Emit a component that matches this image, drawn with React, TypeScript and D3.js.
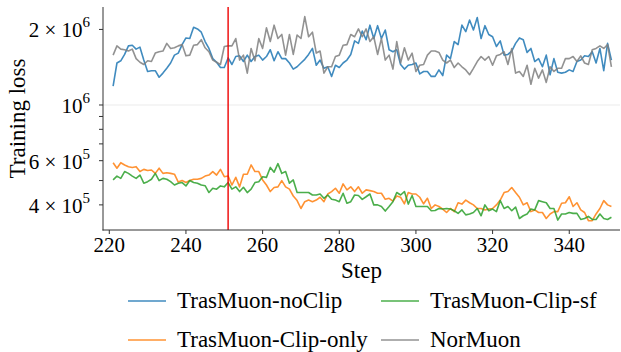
import React from 'react';
import * as d3 from 'd3';

// loss values in units of 1e5, steps 221..351
const steps = d3.range(221, 352);
const UNIT = 1e5;

const noClip = [
  11.9, 14.7, 15.0, 15.9, 17.2, 17.3, 16.7, 17.0, 15.1, 13.6, 13.7, 13.7, 12.9, 13.4, 14.0, 14.7, 15.8, 16.1, 17.4, 18.5,
  18.4, 20.4, 20.1, 19.5, 17.9, 16.8, 15.3, 14.8, 14.1, 14.1, 15.4, 14.5, 15.6, 15.7, 14.9, 15.8, 14.9, 15.6, 15.8, 15.1,
  15.6, 16.6, 15.0,
  16.3, 15.3, 15.3, 14.7, 13.9, 14.2, 14.7, 15.2, 15.9, 16.8, 14.4, 15.1, 14.0, 14.2, 13.0, 14.4, 14.1, 14.7, 15.1, 15.9,
  18.0, 17.6, 19.7, 18.2, 20.8, 18.4, 20.7, 18.4, 19.9, 16.6, 16.3, 16.6, 14.5, 13.9, 14.4, 14.5, 14.7, 13.3, 13.6, 13.6,
  13.0, 13.0, 13.8, 13.1,
  15.8, 15.3, 17.9, 17.4, 20.8, 19.6, 21.8, 19.9, 22.3, 18.4, 20.7, 19.1, 18.7, 17.1, 18.0, 15.8, 15.9, 16.4, 17.6, 18.5,
  18.2, 16.2, 16.8, 14.9, 15.3, 14.2, 15.8, 13.2, 15.3, 13.5, 13.4, 13.5, 13.8, 13.6, 14.9, 15.1, 15.7, 15.6, 16.3, 14.7,
  16.8, 13.7, 17.6, 15.1,
];

const clipOnly = [
  5.89, 5.60, 5.89, 5.77, 5.68, 5.64, 5.68, 5.43, 5.54, 5.48, 5.51, 5.34, 5.60, 5.34, 5.37, 5.34, 5.30, 4.93, 5.00, 4.91,
  5.00, 5.06, 5.06, 5.10, 5.21, 5.26, 5.43, 5.26, 5.54, 5.18, 5.21, 4.80, 5.15, 4.72, 5.30, 5.30, 5.77, 5.43, 5.43, 5.03,
  4.80, 4.52, 4.69,
  4.72, 5.00, 4.72, 4.62, 4.34, 4.16, 3.87, 4.12, 4.18, 4.12, 4.18, 4.29, 4.12, 4.42, 4.52, 4.66, 4.45, 4.85, 4.59, 4.72,
  4.52, 4.72, 4.45, 4.59, 4.56, 4.52, 4.45, 4.45, 4.21, 4.25, 4.14, 4.34, 4.29, 4.04, 4.48, 4.42, 4.42, 4.29, 4.04, 4.25,
  3.87, 4.00, 3.94, 3.85,
  3.73, 3.87, 3.76, 4.08, 4.03, 4.18, 4.08, 4.00, 3.87, 3.87, 3.82, 3.85, 3.87, 4.00, 4.18, 4.48, 4.52, 4.69, 4.48, 4.29,
  4.00, 4.08, 3.76, 3.82, 3.73, 3.73, 3.53, 3.68, 3.76, 3.76, 4.06, 4.08, 4.31, 3.94, 4.08, 3.82, 3.73, 3.46, 3.46, 3.68,
  3.87, 4.16, 4.00, 3.94,
];

const clipSf = [
  5.03, 5.21, 5.10, 5.43, 5.34, 5.21, 5.10, 5.26, 4.88, 4.95, 5.06, 5.34, 5.00, 5.10, 5.06, 4.95, 4.80, 4.88, 4.91, 4.76,
  5.00, 4.91, 4.88, 4.80, 4.77, 4.48, 4.66, 4.62, 4.76, 4.72, 4.91, 4.62, 4.72, 4.52, 4.70, 4.48, 4.62, 4.91, 4.95, 5.18,
  5.15, 5.64, 5.40,
  5.84, 5.34, 5.43, 4.88, 5.03, 4.48, 4.48, 4.48, 4.48, 4.38, 4.38, 4.42, 4.25, 4.38, 4.21, 4.18, 4.12, 4.45, 4.06, 4.12,
  4.38, 4.36, 4.21, 4.31, 4.42, 4.00, 4.00, 3.94, 3.78, 3.94, 4.12, 4.48, 4.38, 4.52, 4.03, 4.36, 3.94, 3.94, 3.94, 3.94,
  3.79, 3.80, 3.87, 3.85,
  3.87, 3.85, 3.79, 3.70, 3.82, 3.65, 3.68, 3.73, 3.87, 3.62, 4.00, 3.79, 3.85, 3.76, 4.16, 3.87, 3.94, 3.79, 3.92, 3.53,
  3.62, 3.68, 3.85, 3.82, 4.16, 4.12, 4.08, 3.87, 3.87, 3.48, 3.68, 3.68, 3.73, 3.70, 3.70, 3.50, 3.53, 3.60, 3.50, 3.50,
  3.68, 3.53, 3.50, 3.57,
];

const norMuon = [
  15.8, 17.2, 16.7, 16.6, 16.4, 16.7, 15.3, 14.8, 14.5, 15.0, 14.9, 16.1, 16.3, 16.4, 17.6, 16.8, 16.9, 17.2, 17.4, 15.7,
  15.8, 17.3, 17.4, 18.2, 16.9, 16.3, 15.1, 14.8, 14.5, 17.1, 17.2, 17.2, 18.4, 15.1, 15.8, 13.4, 16.8, 15.0, 18.4, 16.8,
  20.3, 17.9, 20.8,
  18.4, 19.1, 15.8, 19.1, 15.9, 19.0, 18.4, 22.5, 18.7, 19.5, 16.1, 16.4, 13.4, 14.2, 14.2, 15.6, 15.8, 17.3, 17.4, 19.1,
  18.7, 20.1, 18.7, 20.1, 17.9, 18.7, 15.9, 18.4, 15.1, 15.8, 13.9, 17.9, 14.7, 16.9, 15.1, 16.1, 13.6, 14.4, 14.5, 15.8,
  16.4, 16.4, 16.2, 15.1,
  14.7, 15.1, 14.1, 14.7, 14.2, 13.8, 13.2, 14.0, 14.9, 15.6, 15.1, 15.6, 14.4, 15.7, 15.9, 16.3, 14.5, 16.8, 13.4, 13.6,
  13.0, 14.4, 12.1, 14.0, 12.8, 13.8, 12.3, 14.2, 13.6, 14.0, 14.0, 15.3, 15.3, 15.6, 14.9, 15.7, 14.7, 14.5, 16.6, 16.8,
  17.2, 16.8, 17.4, 14.2,
];

const seriesNames = ['TrasMuon-noClip', 'TrasMuon-Clip-only', 'TrasMuon-Clip-sf', 'NorMuon'];
const seriesValues = [noClip, clipOnly, clipSf, norMuon];
const seriesColors = ['#1f77b4', '#ff7f0e', '#2ca02c', '#7f7f7f'];

const markerStep = 251;
const xTicks = [220, 240, 260, 280, 300, 320, 340];
const yMajorTicks = [1e6];
const yMinorTicks = [4e5, 5e5, 6e5, 7e5, 8e5, 9e5, 2e6];
const yTickLabels = [
  { v: 2e6, base: '2 × 10', exp: '6' },
  { v: 1e6, base: '10', exp: '6' },
  { v: 6e5, base: '6 × 10', exp: '5' },
  { v: 4e5, base: '4 × 10', exp: '5' },
];

const serif = { fontFamily: '"Liberation Serif"' };

export default function App() {
  const left = 103, right = 620, top = 7, bottom = 230;
  const x = d3.scaleLinear().domain([218.36, 353.24]).range([left, right]);
  const y = d3.scaleLog().domain([3.177e5, 2.457e6]).range([bottom, top]);

  const line = d3.line<number>()
    .x((d, i) => x(steps[i]))
    .y(d => y(d * UNIT));

  const legendCols = [128, 381];
  const legendRows = [301, 340];

  return (
    <svg width={621} height={352} style={{ position: 'absolute', left: 0, top: 0, background: '#fff' }}>
      {yMajorTicks.map(v => (
        <line key={'g' + v} x1={left} x2={right} y1={y(v)} y2={y(v)} stroke="#ebebeb" />
      ))}

      {seriesValues.map((vals, i) => (
        <path
          key={seriesNames[i]}
          d={line(vals) || ''}
          fill="none"
          stroke={seriesColors[i]}
          strokeOpacity={0.85}
          strokeWidth={1.6}
          strokeLinejoin="round"
        />
      ))}

      <line x1={x(markerStep)} x2={x(markerStep)} y1={top} y2={bottom} stroke="#ee0000" strokeWidth={1.4} />

      {/* spines */}
      <line x1={left} x2={left} y1={top} y2={bottom + 0.5} stroke="#333" />
      <line x1={left - 0.5} x2={right} y1={bottom} y2={bottom} stroke="#333" />

      {xTicks.map(t => (
        <g key={'x' + t}>
          <line x1={x(t)} x2={x(t)} y1={bottom} y2={bottom + 4} stroke="#333" />
          <text x={x(t)} y={bottom + 22} textAnchor="middle" fontSize={21} style={serif}>{t}</text>
        </g>
      ))}

      {[...yMajorTicks, ...yMinorTicks].map(v => (
        <line key={'y' + v} x1={left - 4} x2={left} y1={y(v)} y2={y(v)} stroke="#333" />
      ))}
      {yTickLabels.map(d => (
        <text key={'yl' + d.v} x={left - 13} y={y(d.v) + 8} textAnchor="end" fontSize={21} style={serif}>
          <tspan>{d.base}</tspan>
          <tspan dy={-10} fontSize={15}>{d.exp}</tspan>
        </text>
      ))}

      <text
        transform={`translate(25, ${(top + bottom) / 2}) rotate(-90)`}
        textAnchor="middle"
        fontSize={23}
        style={serif}
      >
        Training loss
      </text>
      <text x={(left + right) / 2} y={278} textAnchor="middle" fontSize={23} style={serif}>Step</text>

      {/* legend, two columns filled column-wise */}
      {seriesNames.map((name, i) => {
        const cx = legendCols[Math.floor(i / 2)];
        const cy = legendRows[i % 2];
        return (
          <g key={'lg' + name}>
            <line x1={cx} x2={cx + 38} y1={cy} y2={cy} stroke={seriesColors[i]} strokeOpacity={0.85} strokeWidth={1.6} />
            <text x={cx + 49} y={cy + 7} fontSize={23} style={serif}>{name}</text>
          </g>
        );
      })}
    </svg>
  );
}
